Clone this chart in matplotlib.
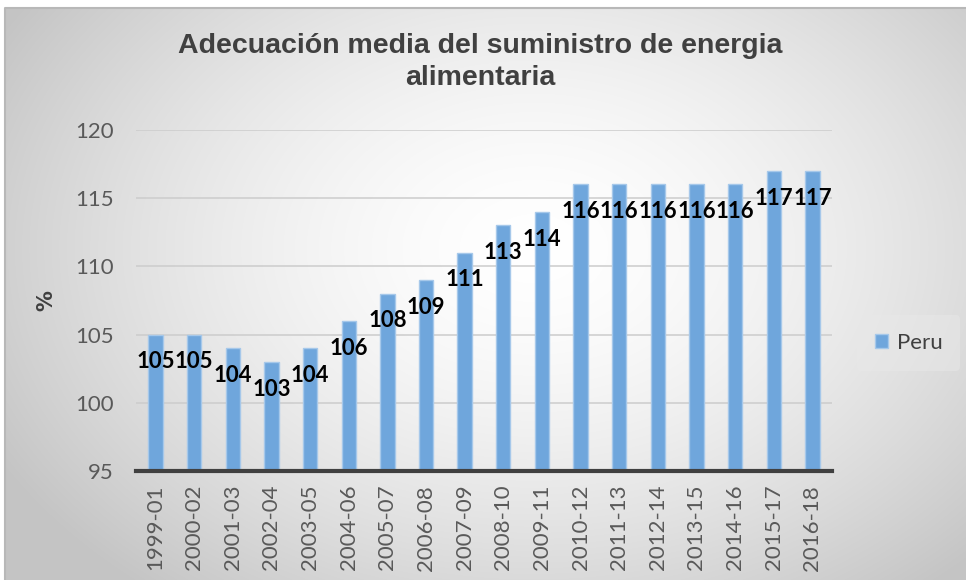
import numpy as np
import matplotlib
matplotlib.use("Agg")
import matplotlib.pyplot as plt

categories = ["1999-01", "2000-02", "2001-03", "2002-04", "2003-05", "2004-06",
              "2005-07", "2006-08", "2007-09", "2008-10", "2009-11", "2010-12",
              "2011-13", "2012-14", "2013-15", "2014-16", "2015-17", "2016-18"]
values = [105, 105, 104, 103, 104, 106, 108, 109, 111, 113, 114, 116,
          116, 116, 116, 116, 117, 117]
series_name = "Peru"
yticks = [95, 100, 105, 110, 115, 120]

W, H = 966, 580
fig = plt.figure(figsize=(W / 100, H / 100), dpi=100, facecolor="white")

# radial gradient background (chart area starts slightly inset from top-left)
x0, y0 = 5, 8
bg = fig.add_axes([x0 / W, 0, 1 - x0 / W, 1 - y0 / H])
h, w = H - y0, W - x0
yy, xx = np.mgrid[0:h, 0:w]
cx, cy = w * 0.55, h * 0.42
r = np.sqrt(((xx - cx) / (w * 0.62)) ** 2 + ((yy - cy) / (h * 0.75)) ** 2)
v = np.clip(1.0 - 0.22 * r ** 1.6, 0.77, 1.0)
img = np.dstack([v, v, v])
bg.imshow(img, aspect="auto", extent=[0, 1, 0, 1], origin="upper")
bg.set_xlim(0, 1)
bg.set_ylim(0, 1)
bg.axis("off")
bg.plot([0, 0, 1], [0, 1, 1], color="#b8b8b8", linewidth=1.5, transform=bg.transAxes,
        clip_on=False)

ax = fig.add_axes([0.141, 0.188, 0.72, 0.588])
ax.patch.set_alpha(0)
x = np.arange(len(categories))
ax.bar(x, [v_ - 95 for v_ in values], bottom=95, width=0.37, color="#6fa6dc",
       edgecolor="#a6c8ea", linewidth=1.0, label=series_name, zorder=3)
for xi, val in zip(x, values):
    ax.text(xi, val - 2.0, str(val), ha="center", va="center", fontsize=16,
            fontweight="bold", family="Lato", color="black", zorder=4)

ax.set_xlim(-0.5, len(categories) - 0.5)
ax.set_ylim(95, 120)
ax.set_yticks(yticks)
ax.set_yticklabels([str(t) for t in yticks], fontsize=16, color="#595959", family="Lato")
ax.set_xticks(x)
ax.set_xticklabels(categories, rotation=90, fontsize=16, color="#595959", family="Lato")
ax.tick_params(axis="y", length=0, pad=16)
ax.tick_params(axis="x", length=0, pad=10)
ax.grid(axis="y", color="#cccccc", linewidth=1.1, zorder=0)
for s in ["top", "right", "left"]:
    ax.spines[s].set_visible(False)
ax.spines["bottom"].set_color("#404040")
ax.spines["bottom"].set_linewidth(3)
ax.spines["bottom"].set_zorder(5)
ax.set_ylabel("%", fontsize=15, fontweight="bold", color="#404040", labelpad=14)

fig.text(0.497, 0.893, "Adecuación media del suministro de energia\nalimentaria",
         ha="center", va="center", fontsize=20.5, fontweight="bold",
         family="Liberation Sans", color="#404040", linespacing=1.3)

leg = ax.legend(loc="center left", bbox_to_anchor=(1.02, 0.376), frameon=True,
                handlelength=0.6, handleheight=0.6, handletextpad=0.4,
                borderpad=0.8, prop={"family": "Lato", "size": 16})
leg.get_frame().set_facecolor("#e8e8e8")
leg.get_frame().set_edgecolor("none")
leg.get_frame().set_alpha(0.5)
for t in leg.get_texts():
    t.set_color("#404040")

fig.savefig("out.png", dpi=100)
